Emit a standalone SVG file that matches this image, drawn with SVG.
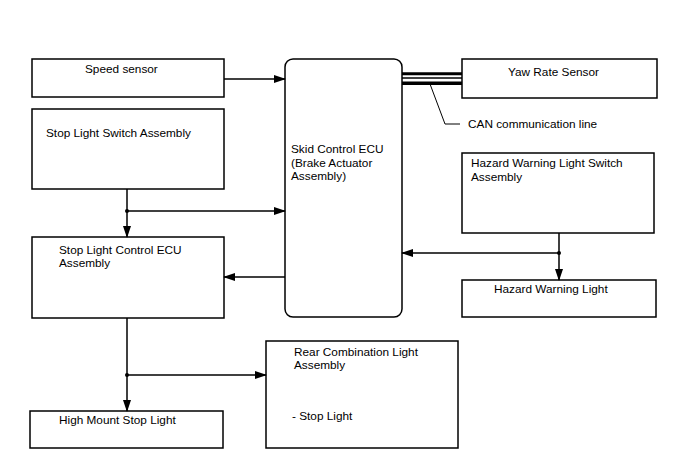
<svg xmlns="http://www.w3.org/2000/svg" width="688" height="463" viewBox="0 0 688 463">
<style>
.box{fill:#fff;stroke:#000;stroke-width:1.5}
.t{font-family:"Liberation Sans",Arial,sans-serif;font-size:11.8px;fill:#000}
.ln{fill:none;stroke:#000;stroke-width:1.5}
</style>
<defs>
<marker id="ah" markerWidth="12" markerHeight="8" refX="11" refY="4" orient="auto" markerUnits="userSpaceOnUse">
<path d="M0,0 L12,4 L0,8 Z" fill="#000"/>
</marker>
</defs>
<rect width="688" height="463" fill="#fff"/>
<g id="speed-sensor"><rect class="box" x="32" y="59" width="192" height="38"/><text class="t" x="85" y="73">Speed sensor</text></g>
<g id="stop-light-switch"><rect class="box" x="32" y="109" width="192" height="80"/><text class="t" x="46" y="137">Stop Light Switch Assembly</text></g>
<g id="skid-control-ecu"><rect class="box" x="285" y="59" width="117" height="258" rx="8"/><text class="t" x="291" y="153">Skid Control ECU</text><text class="t" x="291" y="166.5">(Brake Actuator</text><text class="t" x="291" y="180">Assembly)</text></g>
<g id="yaw-rate-sensor"><rect class="box" x="462" y="59" width="195" height="39"/><text class="t" x="508" y="76">Yaw Rate Sensor</text></g>
<g id="stop-light-control-ecu"><rect class="box" x="32" y="237" width="192" height="81"/><text class="t" x="59" y="254">Stop Light Control ECU</text><text class="t" x="59" y="267">Assembly</text></g>
<g id="hazard-switch"><rect class="box" x="462" y="153" width="192" height="80"/><text class="t" x="471" y="167">Hazard Warning Light Switch</text><text class="t" x="471" y="181">Assembly</text></g>
<g id="hazard-light"><rect class="box" x="462" y="280" width="194" height="37"/><text class="t" x="494" y="293">Hazard Warning Light</text></g>
<g id="high-mount-stop-light"><rect class="box" x="30" y="411" width="193" height="37"/><text class="t" x="59" y="424">High Mount Stop Light</text></g>
<g id="rear-combination-light"><rect class="box" x="266" y="341" width="192" height="107"/><text class="t" x="294" y="356">Rear Combination Light</text><text class="t" x="294" y="369">Assembly</text><text class="t" x="292" y="420">- Stop Light</text></g>
<g id="connectors">
<line class="ln" x1="224" y1="79" x2="285" y2="79" marker-end="url(#ah)"/>
<line class="ln" x1="127" y1="189" x2="127" y2="237" marker-end="url(#ah)"/>
<line class="ln" x1="127" y1="211" x2="285" y2="211" marker-end="url(#ah)"/>
<circle cx="127" cy="211" r="2" fill="#000"/>
<line class="ln" x1="285" y1="277" x2="224" y2="277" marker-end="url(#ah)"/>
<line class="ln" x1="559" y1="233" x2="559" y2="280" marker-end="url(#ah)"/>
<line class="ln" x1="559" y1="253" x2="402" y2="253" marker-end="url(#ah)"/>
<circle cx="559" cy="253" r="2" fill="#000"/>
<line class="ln" x1="127" y1="318" x2="127" y2="411" marker-end="url(#ah)"/>
<line class="ln" x1="127" y1="375" x2="266" y2="375" marker-end="url(#ah)"/>
<circle cx="127" cy="375" r="2" fill="#000"/>
<line stroke="#000" stroke-width="3" x1="402" y1="73.7" x2="462" y2="73.7"/>
<line stroke="#000" stroke-width="1.3" x1="402" y1="78" x2="462" y2="78"/>
<line stroke="#000" stroke-width="3.5" x1="402" y1="83.3" x2="462" y2="83.3"/>
<polyline fill="none" stroke="#000" stroke-width="1" points="430,84 445,124 460,124"/>
</g>
<text class="t" x="468" y="128">CAN communication line</text>
</svg>
